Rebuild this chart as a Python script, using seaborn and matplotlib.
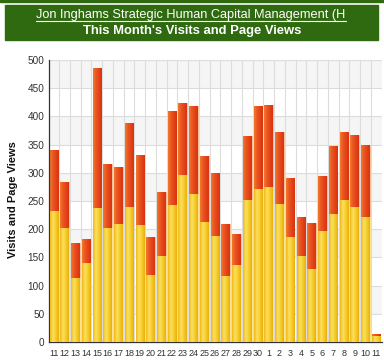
import numpy as np
import pandas as pd
import matplotlib
matplotlib.use("Agg")
import matplotlib.pyplot as plt
import seaborn as sns
from matplotlib.colors import LinearSegmentedColormap
from matplotlib.patches import Rectangle

# day labels (11th of last month to 11th of this month)
days = [str(d) for d in range(11, 31)] + [str(d) for d in range(1, 12)]
page_views = [340, 283, 176, 183, 486, 316, 311, 388, 332, 186, 266, 409, 423, 418, 330, 300,
              210, 192, 366, 419, 420, 372, 291, 221, 211, 294, 347, 372, 367, 350, 15]
visits = [233, 203, 113, 140, 237, 203, 209, 240, 207, 119, 153, 243, 296, 263, 212, 188,
          117, 136, 252, 272, 274, 245, 187, 152, 130, 197, 227, 251, 240, 221, 10]

title_top = "Jon Inghams Strategic Human Capital Management (H"
title_main = "This Month's Visits and Page Views"
y_label = "Visits and Page Views"

df = pd.DataFrame({"day": days, "views": page_views, "visits": visits})
df["pos"] = range(len(df))  # "11" shows up twice, so bars go by position

sns.set_style("white")
plt.rcParams["font.family"] = ["Liberation Sans", "DejaVu Sans"]

fig = plt.figure(figsize=(3.84, 3.61), dpi=100)
W, H = 384, 361

# green header box
fig.patches.append(Rectangle((0, 1 - 2 / H), 1, 2 / H, transform=fig.transFigure,
                             color="#2f6a10", zorder=0))
fig.patches.append(Rectangle((5 / W, 1 - 40 / H), 373 / W, 35 / H, transform=fig.transFigure,
                             color="#2f6a10", zorder=0))
t1 = fig.text(191 / W, 1 - 15 / H, title_top, color="white", fontsize=9.2,
              ha="center", va="center")
fig.text(192 / W, 1 - 31 / H, title_main, color="white", fontsize=9.4,
         fontweight="bold", ha="center", va="center")
# underline for the link-style first line
fig.canvas.draw()
bb = t1.get_window_extent()
fig.add_artist(plt.Line2D([bb.x0 / W, bb.x1 / W], [1 - 20.5 / H, 1 - 20.5 / H],
                          transform=fig.transFigure, color="white", lw=0.8))

ax = fig.add_axes([48.5 / W, 19 / H, (381.5 - 48.5) / W, (342 - 60) / H])

sns.barplot(data=df, x="pos", y="views", color="#e84a1a", width=0.8,
            edgecolor="#f6c9a0", linewidth=0.6, saturation=1, ax=ax, zorder=2)
sns.barplot(data=df, x="pos", y="visits", color="#f4c21c", width=0.8,
            edgecolor="#fbe9a0", linewidth=0.6, saturation=1, ax=ax, zorder=3)

# horizontal gradient fill on each bar
red_cmap = LinearSegmentedColormap.from_list("r", ["#f27a2c", "#ea5620", "#e3431a", "#d8330f"])
yel_cmap = LinearSegmentedColormap.from_list("y", ["#efb616", "#fbe262", "#f6cc2a", "#e9ae0c"])
grad = np.linspace(0, 1, 64).reshape(1, -1)
for cont, cmap in zip(ax.containers, [red_cmap, yel_cmap]):
    for p in cont.patches:
        x0, y0 = p.get_x(), p.get_y()
        w, h = p.get_width(), p.get_height()
        im = ax.imshow(grad, cmap=cmap, aspect="auto", extent=(x0, x0 + w, y0, y0 + h),
                       zorder=p.get_zorder() + 0.1, interpolation="bicubic")
        im.set_clip_path(p)

# alternating light bands
for i, y0 in enumerate(range(0, 500, 50)):
    if i % 2 == 1:
        ax.axhspan(y0, y0 + 50, color="#f5f5f5", zorder=0, lw=0)

ax.set_xlim(-0.5, len(days) - 0.5)
ax.set_ylim(0, 500)
ax.set_xticks(range(len(days)))
ax.set_xticklabels(days)
ax.set_yticks(range(0, 501, 50))
ax.set_yticks(range(0, 501, 10), minor=True)
ax.set_xticks(np.arange(-0.5, len(days), 1), minor=True)
ax.grid(False)
for y in range(50, 501, 50):
    ax.axhline(y, color="#dcdcdc", lw=0.8, zorder=1)
for x in np.arange(0.5, len(days) - 0.5, 1):
    ax.axvline(x, color="#dcdcdc", lw=0.8, zorder=1)

ax.set_xlabel("")
ax.set_ylabel("")
fig.text(13 / W, 1 - 200 / H, y_label, rotation=90, fontsize=8, fontweight="bold",
         ha="center", va="center", color="#111111")

ax.tick_params(axis="y", which="major", direction="in", length=5, width=0.8,
               labelsize=7.2, labelcolor="#333333", pad=3, color="#333333")
ax.tick_params(axis="y", which="minor", direction="in", length=2.5, width=0.6, color="#333333")
ax.tick_params(axis="x", which="major", length=0, labelsize=6.5, labelcolor="#333333", pad=5)
ax.tick_params(axis="x", which="minor", direction="in", length=3, width=0.7, color="#333333")

for s in ["top", "right"]:
    ax.spines[s].set_visible(False)
ax.spines["left"].set_color("#333333")
ax.spines["bottom"].set_color("#333333")
ax.spines["left"].set_linewidth(0.9)
ax.spines["bottom"].set_linewidth(0.9)

fig.savefig("out.png", dpi=100)
